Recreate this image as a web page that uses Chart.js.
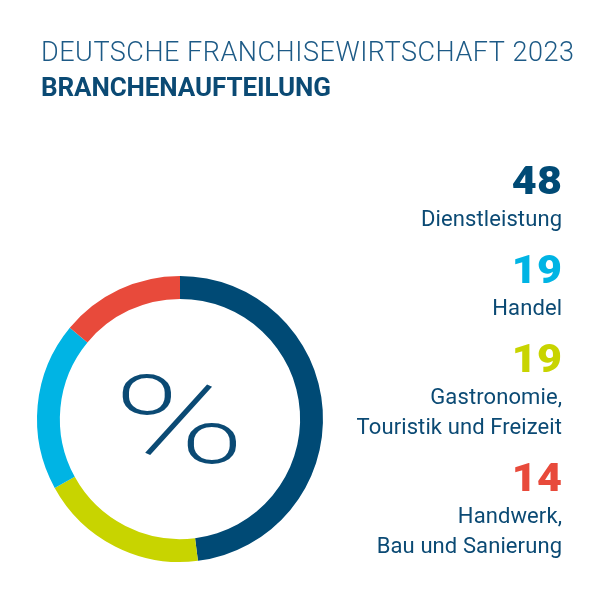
<!DOCTYPE html>
<html>
<head>
<meta charset="utf-8">
<script src="https://cdn.jsdelivr.net/npm/chart.js@4.4.1/dist/chart.umd.min.js"></script>
<style>
html,body{margin:0;padding:0;background:#ffffff;overflow:hidden;}
canvas{display:block;}
</style>
</head>
<body>
<canvas id="chart" width="600" height="600"></canvas>
<script>
// ---- Data (clockwise order in the ring, starting at 12 o'clock) ----
const categories = ['Dienstleistung', 'Gastronomie, Touristik und Freizeit', 'Handel', 'Handwerk, Bau und Sanierung'];
const values = [48, 19, 19, 14];
const categoryLines = [['Dienstleistung'], ['Gastronomie,', 'Touristik und Freizeit'], ['Handel'], ['Handwerk,', 'Bau und Sanierung']];
const segmentColors = ['#004a75', '#c8d400', '#00b4e4', '#e84a3b'];
const legendOrder = [0, 2, 1, 3];
const titleText = 'DEUTSCHE FRANCHISEWIRTSCHAFT 2023';
const subtitleText = 'BRANCHENAUFTEILUNG';
const centerText = '%';

const textBlue = '#0b4a74';

function drawFit(ctx, text, x, y, font, targetWidth, align, color, spacing, hscale) {
  ctx.save();
  ctx.font = font;
  ctx.fillStyle = color;
  ctx.textBaseline = 'alphabetic';
  ctx.textAlign = 'left';
  ctx.letterSpacing = '0px';
  const w = ctx.measureText(text).width;
  let ls = spacing || 0;
  const hs = hscale || 1;
  if (targetWidth) ls = (targetWidth / hs - w) / (text.length - 1);
  ctx.letterSpacing = ls + 'px';
  const total = (w + ls * (text.length - 1)) * hs;
  const sx = align === 'right' ? x - total : x;
  ctx.translate(sx, y);
  ctx.scale(hs, 1);
  ctx.fillText(text, 0, 0);
  ctx.restore();
}

const textPlugin = {
  id: 'texts',
  afterDraw(chart) {
    const ctx = chart.ctx;
    // Titles
    drawFit(ctx, titleText, 41, 61, '300 27px Roboto', 533, 'left', '#1d5a86');
    drawFit(ctx, subtitleText, 41, 96, '700 26px Roboto', 290, 'left', textBlue);

    // Center symbol
    const meta = chart.getDatasetMeta(0);
    const arc = meta.data[0];
    const cx = arc.x, cy = arc.y;
    ctx.save();
    ctx.font = '200 124px Roboto';
    ctx.fillStyle = textBlue;
    ctx.textAlign = 'left';
    ctx.textBaseline = 'alphabetic';
    const m = ctx.measureText(centerText);
    const bw = m.actualBoundingBoxLeft + m.actualBoundingBoxRight;
    const bh = m.actualBoundingBoxAscent + m.actualBoundingBoxDescent;
    const sx = 115 / bw, sy = 91 / bh;
    ctx.translate(cx - 1, cy - 1);
    ctx.scale(sx, sy);
    ctx.fillText(centerText, -bw / 2 + m.actualBoundingBoxLeft, bh / 2 - m.actualBoundingBoxDescent);
    ctx.restore();

    // Legend column (right-aligned)
    const rightX = 562;
    let y = 194;
    legendOrder.forEach((idx, k) => {
      if (k > 0) y += 57;
      drawFit(ctx, String(values[idx]), rightX, y, '900 38.5px Roboto', null, 'right', segmentColors[idx], 0.3, 1.12);
      y += 32;
      categoryLines[idx].forEach((line, li) => {
        if (li > 0) y += 30;
        drawFit(ctx, line, rightX, y, '400 22px Roboto', null, 'right', textBlue, 0.1);
      });
    });
  }
};

new Chart(document.getElementById('chart'), {
  type: 'doughnut',
  data: {
    labels: categories,
    datasets: [{
      data: values,
      backgroundColor: segmentColors,
      borderWidth: 0,
      hoverOffset: 0
    }]
  },
  options: {
    responsive: false,
    animation: false,
    cutout: '84%',
    layout: { padding: { left: 37, right: 277, top: 276, bottom: 38 } },
    plugins: {
      legend: { display: false },
      tooltip: { enabled: false },
      title: { display: false }
    }
  },
  plugins: [textPlugin]
});
</script>
</body>
</html>
